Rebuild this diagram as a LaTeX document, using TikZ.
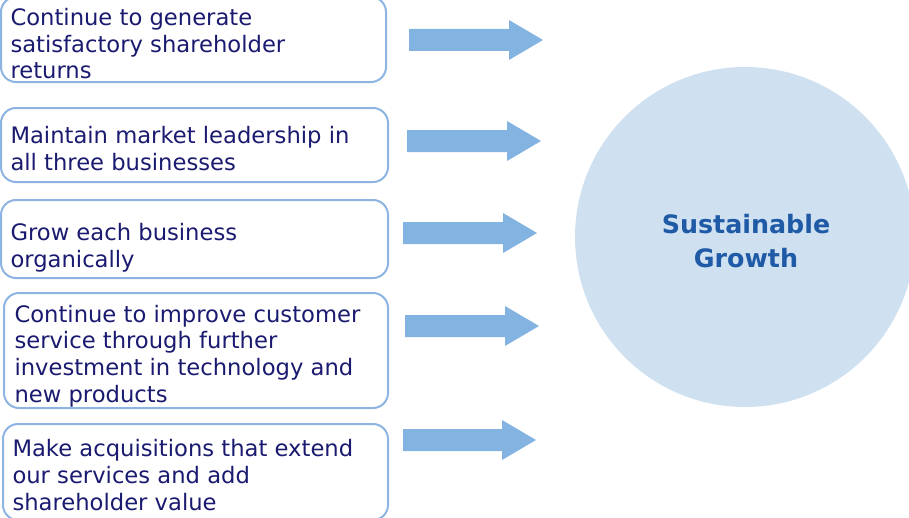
\documentclass[tikz,border=0pt]{standalone}
\usepackage{fontspec}
\setmainfont{DejaVu Sans}

\definecolor{boxline}{RGB}{141,180,226}
\definecolor{arrowfill}{RGB}{131,179,224}
\definecolor{circfill}{RGB}{207,224,241}
\definecolor{navytext}{RGB}{26,26,112}
\definecolor{goaltext}{RGB}{30,90,165}

\tikzset{every picture/.style={line width=0.75pt}}
\tikzset{
  goalbox/.style={draw=boxline, line width=1.5, rounded corners=11.25},
  goaltxt/.style={anchor=base west, inner sep=0pt, align=left, color=navytext, font=\fontsize{17}{20}\selectfont},
  fatarrow/.style={fill=arrowfill, draw=none}
}

\begin{document}
\begin{tikzpicture}[x=0.75pt,y=0.75pt,yscale=-1,xscale=1]
        \useasboundingbox (0,0) rectangle (909,517);
        %Shape: Circle [id:growth]
        \node (growth) [circle, fill=circfill, minimum size=255pt, inner sep=0pt] at (745,237) {};

        %Rounded Rect [id:goal1]
        \draw [goalbox] (1,-3) rectangle (386,82);
        %Rounded Rect [id:goal2]
        \draw [goalbox] (1,108) rectangle (388,182);
        %Rounded Rect [id:goal3]
        \draw [goalbox] (1,200) rectangle (388,278);
        %Rounded Rect [id:goal4]
        \draw [goalbox] (4,293) rectangle (388,408);
        %Rounded Rect [id:goal5]
        \draw [goalbox] (3,424) rectangle (388,520);

        %Right Arrow [id:arr1]
        \fill [fatarrow] (409,29) -- (509,29) -- (509,20) -- (543,40) -- (509,60) -- (509,51) -- (409,51) -- cycle ;
        %Right Arrow [id:arr2]
        \fill [fatarrow] (407,130) -- (507,130) -- (507,121) -- (541,141) -- (507,161) -- (507,152) -- (407,152) -- cycle ;
        %Right Arrow [id:arr3]
        \fill [fatarrow] (403,222) -- (503,222) -- (503,213) -- (537,233) -- (503,253) -- (503,244) -- (403,244) -- cycle ;
        %Right Arrow [id:arr4]
        \fill [fatarrow] (405,315) -- (505,315) -- (505,306) -- (539,326) -- (505,346) -- (505,337) -- (405,337) -- cycle ;
        %Right Arrow [id:arr5]
        \fill [fatarrow] (403,429) -- (502,429) -- (502,420) -- (536,440) -- (502,460) -- (502,451) -- (403,451) -- cycle ;

        % Text Node (anchored at the last line)
        \node (txt1) [goaltxt] at (10,79) {Continue to generate\\satisfactory shareholder\\returns};
        % Text Node
        \node (txt2) [goaltxt] at (10,170) {Maintain market leadership in\\all three businesses};
        % Text Node
        \node (txt3) [goaltxt] at (10,267) {Grow each business\\organically};
        % Text Node
        \node (txt4) [goaltxt] at (14,402) {Continue to improve customer\\service through further\\investment in technology and\\new products};
        % Text Node
        \node (txt5) [goaltxt] at (12,510) {Make acquisitions that extend\\our services and add\\shareholder value};
        % Text Node
        \node (growthtxt) [anchor=base, inner sep=0pt, align=center, color=goaltext, font=\fontsize{19}{25.5}\selectfont\bfseries] at (746,267) {Sustainable\\Growth};
\end{tikzpicture}
\end{document}
